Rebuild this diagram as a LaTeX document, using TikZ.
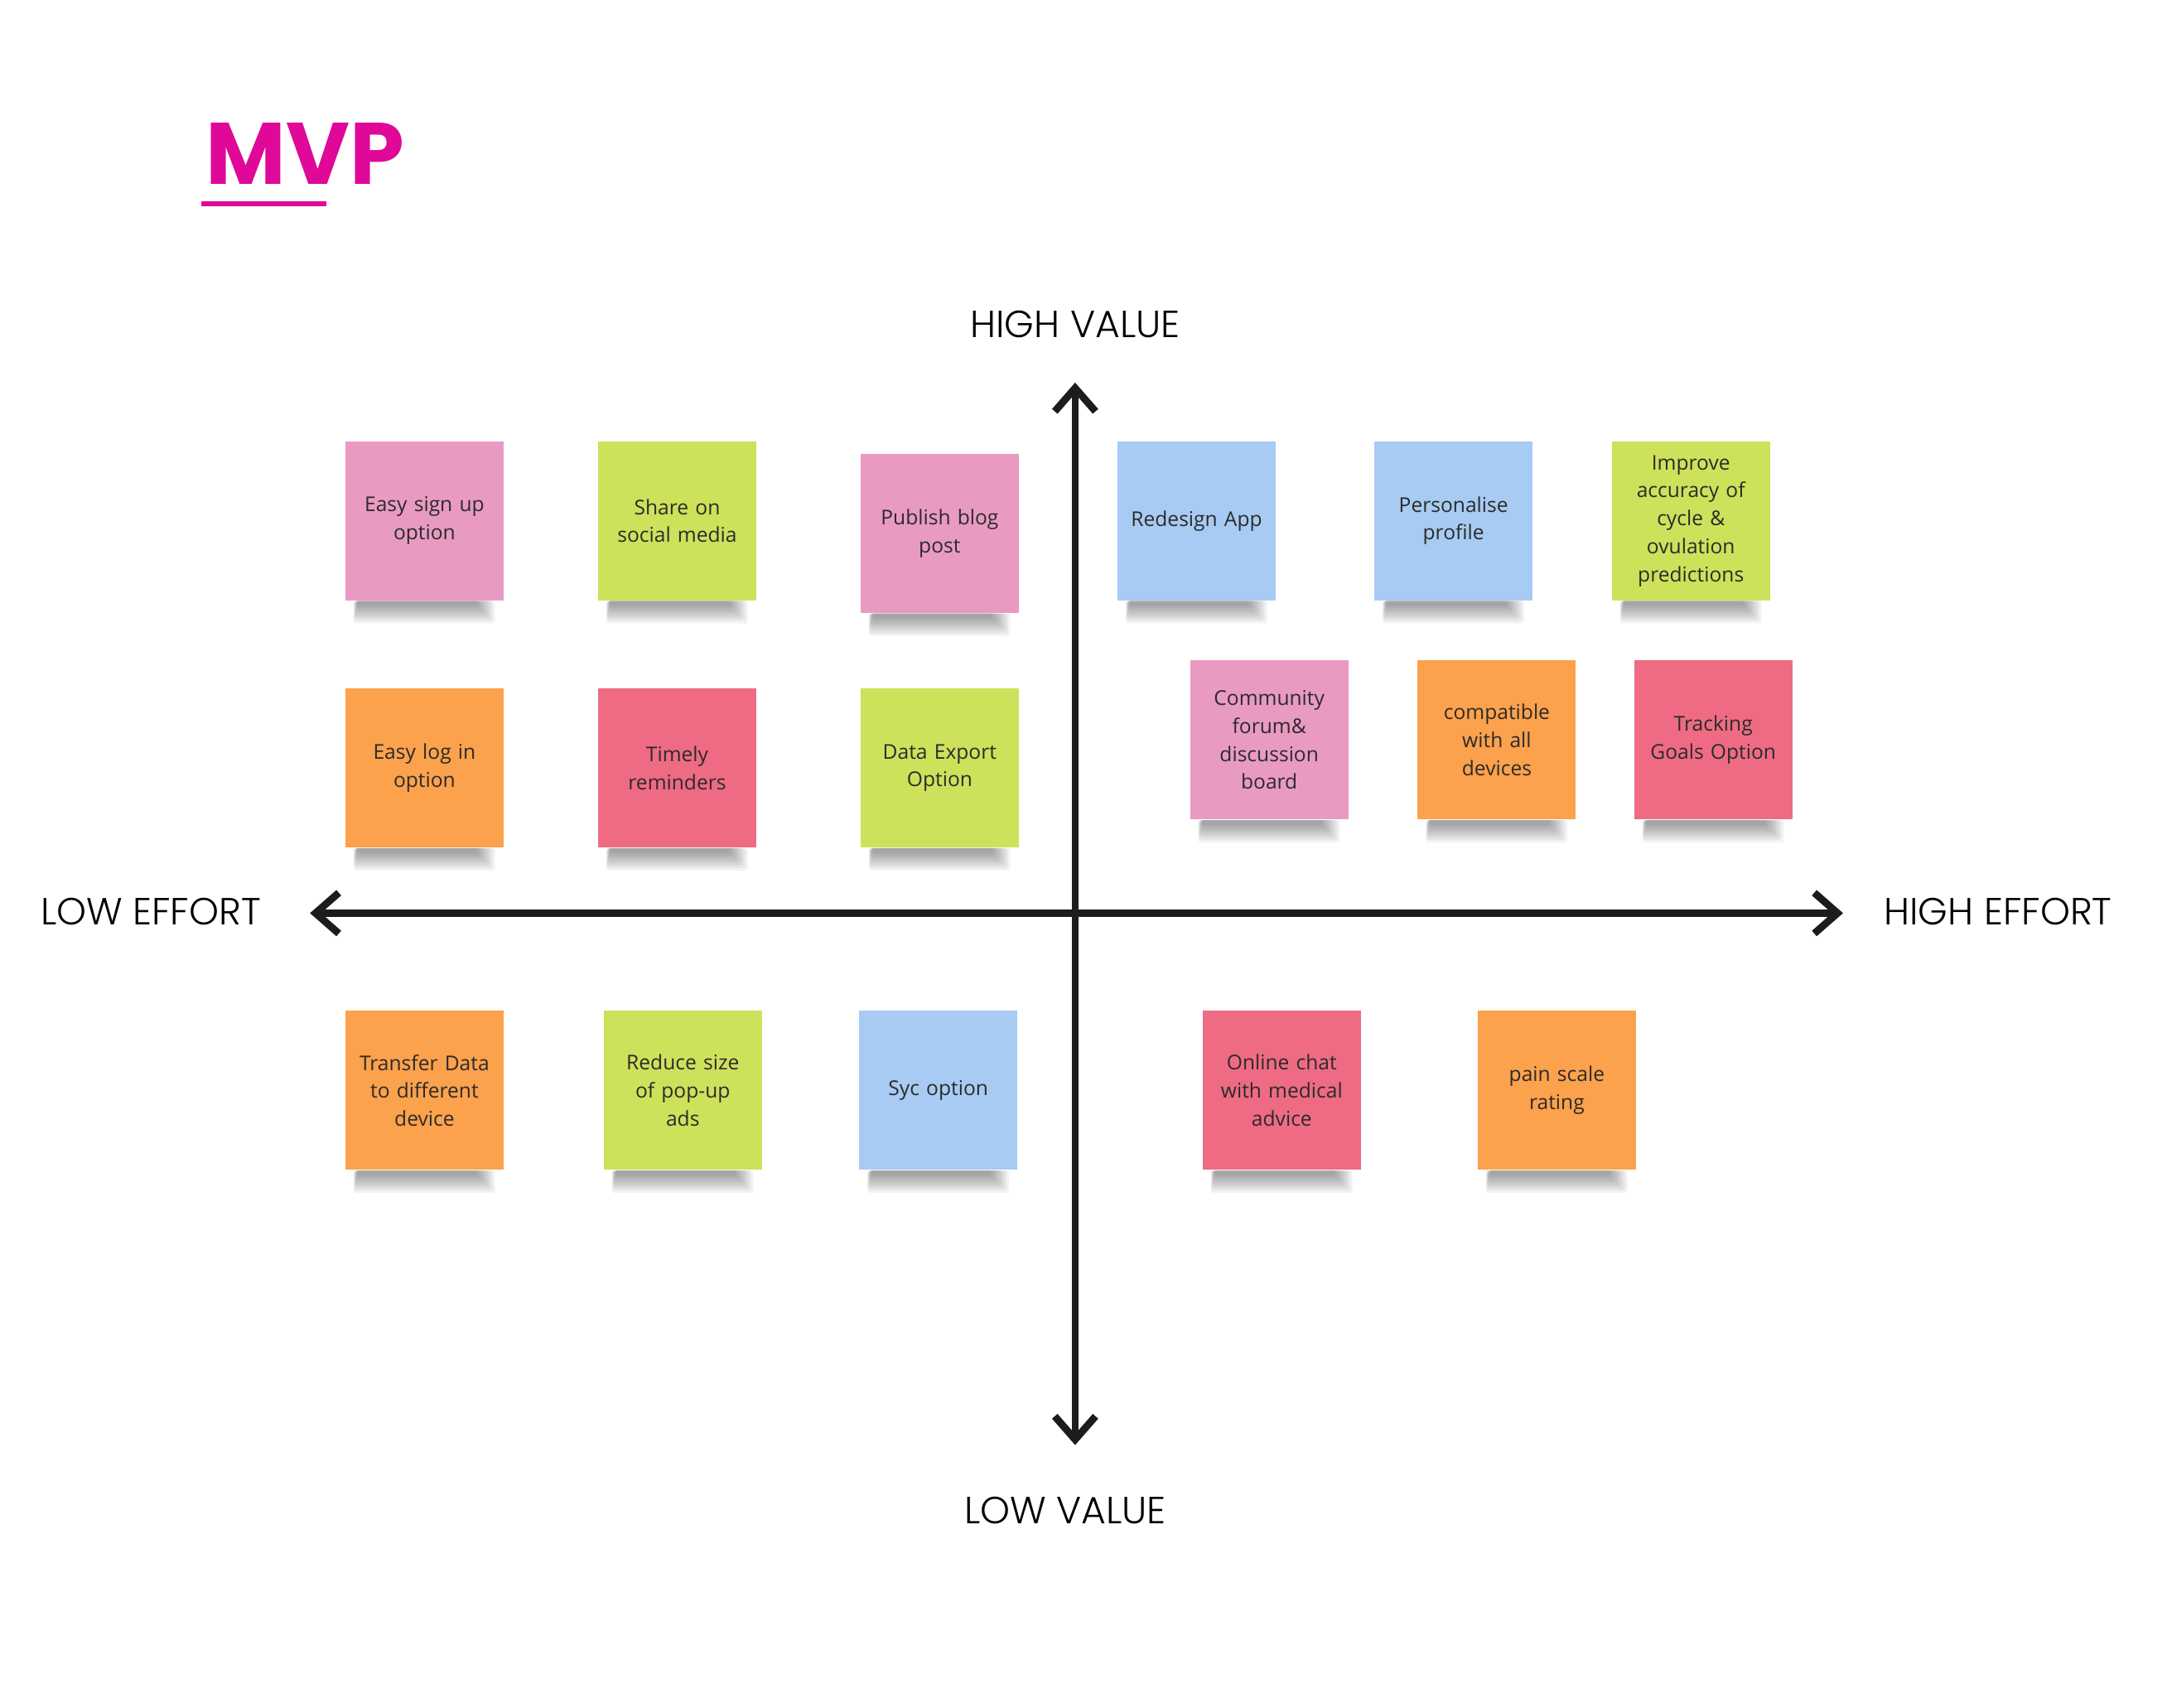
\documentclass[tikz,border=0pt]{standalone}
\usepackage{fontspec}
\setmainfont{Open Sans}
\IfFontExistsTF{Poppins Light}{\newfontfamily\axisfont{Poppins Light}}{\newfontfamily\axisfont{Poppins}}
\newfontfamily\titlefont{Poppins}
\usetikzlibrary{arrows.meta}
\definecolor{notepink}{HTML}{E99AC3}
\definecolor{notelime}{HTML}{CEE15A}
\definecolor{noteblue}{HTML}{A7CBF2}
\definecolor{noteorange}{HTML}{FCA14C}
\definecolor{notered}{HTML}{EE6B83}
\definecolor{notetext}{HTML}{2B2B2B}
\definecolor{axisgray}{HTML}{1C1C1C}
\definecolor{mvpmagenta}{HTML}{E00898}
\begin{document}
\begin{tikzpicture}[x=0.016856cm,y=-0.016856cm,
 note/.style={minimum width=1.91cm,minimum height=1.92cm,text width=1.75cm,align=center,inner sep=0pt,text=notetext,font=\fontsize{7}{9.6}\selectfont},
 shadowlayer/.style={fill=black,opacity=0.05,rounded corners=0.03cm},
 axislabel/.style={font=\axisfont\fontsize{13}{15}\selectfont,text=black},
 axis/.style={line width=2.5pt,color=axisgray,>={Straight Barb[length=8pt,width=14pt]},<->}]
 \useasboundingbox[fill=white] (0,0) rectangle (1552,1223);
 \node[anchor=base west,text=mvpmagenta,font=\titlefont\bfseries\fontsize{30}{30}\selectfont] (mvp) at (140,132) {MVP};
 \draw[line width=1.7pt,mvpmagenta] (144,146) -- (234,146);
 \node[note,fill=notepink] (signup) at (304,373) {Easy sign up\\option};
 \node[note,fill=notelime] (share) at (485,373) {Share on\\social media};
 \node[note,fill=notepink] (blog) at (673,382) {Publish blog\\post};
 \node[note,fill=noteblue] (redesign) at (857,373) {Redesign App};
 \node[note,fill=noteblue] (profile) at (1041,373) {Personalise\\profile};
 \node[note,fill=notelime] (accuracy) at (1211,373) {Improve\\accuracy of\\cycle \&\\ovulation\\predictions};
 \node[note,fill=noteorange] (login) at (304,550) {Easy log in\\option};
 \node[note,fill=notered] (remind) at (485,550) {Timely\\reminders};
 \node[note,fill=notelime] (export) at (673,550) {Data Export\\Option};
 \node[note,fill=notepink] (forum) at (909,530) {Community\\forum\&\\discussion\\board};
 \node[note,fill=noteorange] (compat) at (1072,530) {compatible\\with all\\devices};
 \node[note,fill=notered] (goals) at (1227,530) {Tracking\\Goals Option};
 \node[note,fill=noteorange] (transfer) at (304,781) {Transfer Data\\to different\\device};
 \node[note,fill=notelime] (popup) at (489,781) {Reduce size\\of pop-up\\ads};
 \node[note,fill=noteblue] (sync) at (672,781) {Syc option};
 \node[note,fill=notered] (chat) at (918,781) {Online chat\\with medical\\advice};
 \node[note,fill=noteorange] (pain) at (1115,781) {pain scale\\rating};
 \foreach \n in {signup,share,blog,redesign,profile,accuracy,login,remind,export,forum,compat,goals,transfer,popup,sync,chat,pain}
  \foreach \k in {1,...,8}
   \fill[shadowlayer] ([xshift=0.1cm+0.006cm*\k]\n.south west) rectangle ([xshift=-0.08cm-0.03cm*\k,yshift=-0.3cm+0.03cm*\k]\n.south east);
 \coordinate (top) at (770,274);
 \coordinate (bottom) at (770,1035);
 \coordinate (left) at (222,654);
 \coordinate (right) at (1320,654);
 \draw[axis] (left) -- (right);
 \draw[axis] (bottom) -- (top);
 \node[axislabel] (highvalue) at (770,232) {HIGH VALUE};
 \node[axislabel] (lowvalue) at (763,1082) {LOW VALUE};
 \node[axislabel] (loweffort) at (108,653) {LOW EFFORT};
 \node[axislabel] (higheffort) at (1431,653) {HIGH EFFORT};
\end{tikzpicture}
\end{document}
